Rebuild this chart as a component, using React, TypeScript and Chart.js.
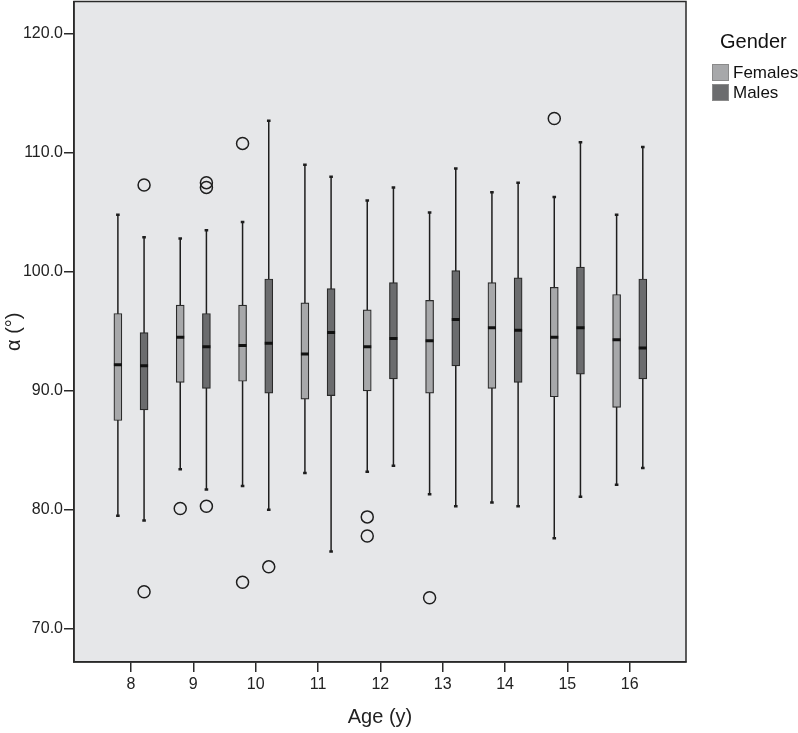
import React, { useEffect, useRef } from "react";
import { Chart, registerables } from "chart.js";

Chart.register(...registerables);

const ages = [8, 9, 10, 11, 12, 13, 14, 15, 16];
const yTicks = [70, 80, 90, 100, 110, 120];

const femaleMin = [79.5, 83.4, 82.0, 83.1, 83.2, 81.3, 80.6, 77.6, 82.1];
const femaleQ1 = [87.5, 90.7, 90.8, 89.3, 90.0, 89.8, 90.2, 89.5, 88.6];
const femaleMedian = [92.2, 94.5, 93.8, 93.1, 93.7, 94.2, 95.3, 94.5, 94.3];
const femaleQ3 = [96.5, 97.2, 97.2, 97.4, 96.8, 97.6, 99.1, 98.7, 98.1];
const femaleMax = [104.8, 102.8, 104.2, 109.0, 106.0, 105.0, 106.7, 106.3, 104.8];

const maleMin = [79.1, 81.7, 80.0, 76.5, 83.7, 80.3, 80.3, 81.1, 83.5];
const maleQ1 = [88.4, 90.2, 89.8, 89.6, 91.0, 92.1, 90.7, 91.4, 91.0];
const maleMedian = [92.1, 93.7, 94.0, 94.9, 94.4, 96.0, 95.1, 95.3, 93.6];
const maleQ3 = [94.9, 96.5, 99.4, 98.6, 99.1, 100.1, 99.5, 100.4, 99.4];
const maleMax = [102.9, 103.5, 112.7, 108.0, 107.1, 108.7, 107.5, 110.9, 110.5];

const femaleOutlierAge = [9, 10, 10, 12, 12, 13, 15];
const femaleOutlierValue = [80.1, 110.8, 73.9, 79.4, 77.8, 72.6, 112.9];
const maleOutlierAge = [8, 8, 9, 9, 9, 10];
const maleOutlierValue = [107.3, 73.1, 107.5, 107.1, 80.3, 75.2];

const FEMALE_FILL = "#a7a8aa";
const MALE_FILL = "#6b6c6e";
const OFFSET = 0.21;
const FONT = "'Liberation Sans', Arial, Helvetica, sans-serif";
const SHIFT = 6;

export default function App() {
  const ref = useRef<HTMLCanvasElement>(null);

  useEffect(() => {
    document.body.style.margin = "0";
    const ctx = ref.current!.getContext("2d")!;

    const boxes = (off: number, q1: number[], q3: number[]) =>
      ages.map((a, i) => ({ x: a + off, y: [q1[i], q3[i]] }));
    const whiskers = (off: number, mn: number[], mx: number[]) => {
      const pts: any[] = [];
      ages.forEach((a, i) => {
        pts.push({ x: a + off, y: mn[i] });
        pts.push({ x: a + off, y: mx[i] });
        pts.push({ x: a + off, y: null });
      });
      return pts;
    };
    const caps = (off: number, mn: number[], mx: number[]) => {
      const pts: any[] = [];
      ages.forEach((a, i) => {
        pts.push({ x: a + off, y: mn[i] });
        pts.push({ x: a + off, y: mx[i] });
      });
      return pts;
    };
    const meds = (off: number, m: number[]) => ages.map((a, i) => ({ x: a + off, y: m[i] }));
    const outs = (off: number, ag: number[], v: number[]) => ag.map((a, i) => ({ x: a + off, y: v[i] }));

    const bgPlugin = {
      id: "plotFrame",
      beforeDraw(chart: any) {
        const { ctx: c, chartArea: a } = chart;
        c.save();
        c.fillStyle = "#e6e7e9";
        c.fillRect(a.left, a.top, a.right - a.left, a.bottom - a.top);
        c.restore();
      },
      afterDatasetsDraw(chart: any) {
        const { ctx: c, chartArea: a } = chart;
        c.save();
        c.strokeStyle = "#2a2a2a";
        c.lineWidth = 1.5;
        c.strokeRect(a.left, a.top, a.right - a.left, a.bottom - a.top);
        c.restore();
      },
    };

    const lineStyle = { type: "line" as const, showLine: true, spanGaps: false, pointRadius: 0, borderColor: "#1e1e1e", borderWidth: 1.5, order: 5 };

    const chart = new Chart(ctx, {
      type: "bar",
      data: {
        datasets: [
          { ...lineStyle, label: "wf", data: whiskers(-OFFSET, femaleMin, femaleMax) } as any,
          { ...lineStyle, label: "wm", data: whiskers(OFFSET, maleMin, maleMax) } as any,
          {
            type: "bar",
            label: "Females",
            data: boxes(-OFFSET, femaleQ1, femaleQ3) as any,
            backgroundColor: FEMALE_FILL,
            borderColor: "#2a2a2a",
            borderWidth: 1.2,
            borderSkipped: false,
            barThickness: 8,
            grouped: false,
            order: 3,
          } as any,
          {
            type: "bar",
            label: "Males",
            data: boxes(OFFSET, maleQ1, maleQ3) as any,
            backgroundColor: MALE_FILL,
            borderColor: "#2a2a2a",
            borderWidth: 1.2,
            borderSkipped: false,
            barThickness: 8,
            grouped: false,
            order: 3,
          } as any,
          {
            type: "line", label: "caps", showLine: false, order: 2,
            data: [...caps(-OFFSET, femaleMin, femaleMax), ...caps(OFFSET, maleMin, maleMax)],
            pointStyle: "line", pointRadius: 1.8, pointBorderWidth: 2.5, pointBorderColor: "#1e1e1e",
          } as any,
          {
            type: "line", label: "medians", showLine: false, order: 1,
            data: [...meds(-OFFSET, femaleMedian), ...meds(OFFSET, maleMedian)],
            pointStyle: "line", pointRadius: 4, pointBorderWidth: 3, pointBorderColor: "#111",
          } as any,
          {
            type: "line", label: "outliers", showLine: false, order: 0,
            data: [...outs(-OFFSET, femaleOutlierAge, femaleOutlierValue), ...outs(OFFSET, maleOutlierAge, maleOutlierValue)],
            pointStyle: "circle", pointRadius: 6, pointBorderWidth: 1.5,
            pointBorderColor: "#1e1e1e", pointBackgroundColor: "rgba(0,0,0,0)",
          } as any,
        ],
      },
      options: {
        animation: false,
        responsive: false,
        maintainAspectRatio: false,
        layout: { padding: { top: 1, right: 112, bottom: 0, left: 0 } },
        plugins: { legend: { display: false }, tooltip: { enabled: false } },
        scales: {
          x: {
            type: "linear",
            offset: false,
            min: 7.086,
            max: 16.903,
            afterFit: (s: any) => { s.height = 71; s.paddingLeft = 0; s.paddingRight = 0; },
            afterBuildTicks: (s: any) => { s.ticks = ages.map((v) => ({ value: v })); },
            ticks: { font: { family: FONT, size: 16 }, color: "#222", padding: 3, maxRotation: 0, callback: (v: any) => String(v) },
            grid: { display: true, offset: false, drawOnChartArea: false, drawTicks: true, tickLength: 10, color: "#2a2a2a", lineWidth: 1.5 },
            border: { display: true, color: "#2a2a2a", width: 1.5 },
            title: { display: true, text: "Age (y)", font: { family: FONT, size: 20 }, color: "#222", padding: { top: 0, bottom: 4 } },
          },
          y: {
            type: "linear",
            min: 67.2,
            max: 122.73,
            afterFit: (s: any) => { s.width = 74; s.paddingTop = 0; s.paddingBottom = 0; },
            afterBuildTicks: (s: any) => { s.ticks = yTicks.map((v) => ({ value: v })); },
            ticks: { font: { family: FONT, size: 16 }, color: "#222", padding: 1, callback: (v: any) => Number(v).toFixed(1) },
            grid: { display: true, drawOnChartArea: false, drawTicks: true, tickLength: 10, color: "#2a2a2a", lineWidth: 1.5 },
            border: { display: true, color: "#2a2a2a", width: 1.5 },
            title: { display: true, text: "α (°)", font: { family: FONT, size: 20 }, color: "#222", padding: { top: 2, bottom: 0 } },
          },
        },
      },
      plugins: [bgPlugin],
    });
    return () => chart.destroy();
  }, []);

  const item = (color: string, label: string, top: number) => (
    <div style={{ position: "absolute", left: 712, top, display: "flex", alignItems: "center", height: 17 }}>
      <div style={{ width: 15, height: 15, background: color, border: "1px solid #8a8a8a", boxSizing: "content-box" }} />
      <span style={{ marginLeft: 4, fontFamily: FONT, fontSize: 17, color: "#111", lineHeight: "17px", whiteSpace: "nowrap" }}>{label}</span>
    </div>
  );

  return (
    <div style={{ position: "relative", width: 798, height: 733, overflow: "hidden", background: "#fff" }}>
      <canvas ref={ref} width={798} height={733 + SHIFT} style={{ display: "block", position: "absolute", left: 0, top: -SHIFT }} />
      <div style={{ position: "absolute", left: 720, top: 30, fontFamily: FONT, fontSize: 20, color: "#111", lineHeight: "22px" }}>Gender</div>
      {item(FEMALE_FILL, "Females", 64)}
      {item(MALE_FILL, "Males", 84)}
    </div>
  );
}
